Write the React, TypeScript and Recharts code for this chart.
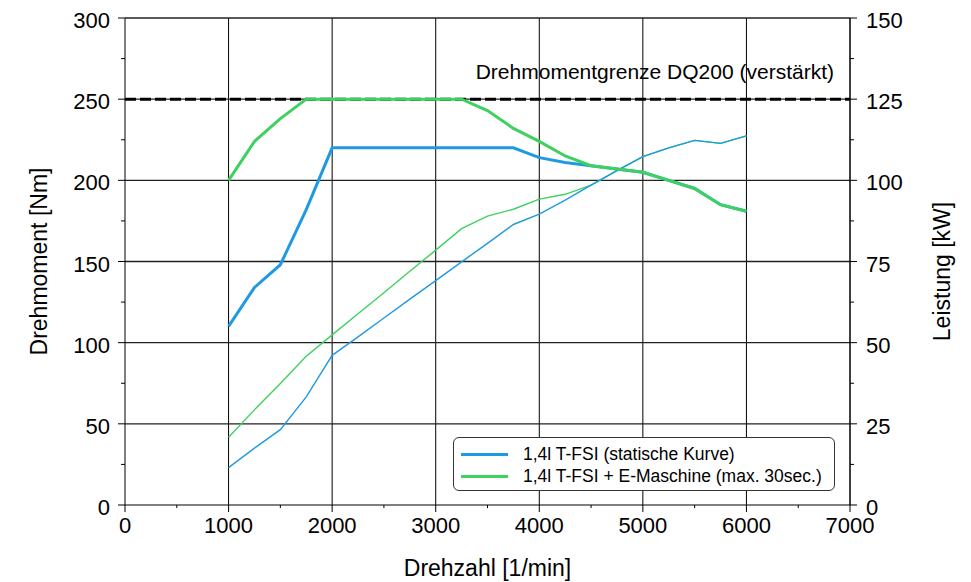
import React from "react";
import { Line, LineChart, ReferenceLine, XAxis, YAxis } from "recharts";

const rpm = [1000, 1250, 1500, 1750, 2000, 2250, 2500, 2750, 3000, 3250, 3500, 3750, 4000, 4250, 4500, 4750, 5000, 5250, 5500, 5750, 6000];
const torqueStatic = [110, 134, 148, 182, 220, 220, 220, 220, 220, 220, 220, 220, 214, 211, 209, 207, 205, 200, 195, 185, 181];
const torqueEMachine = [200, 224, 238, 250, 250, 250, 250, 250, 250, 250, 243, 232, 224, 215, 209, 207, 205, 200, 195, 185, 181];
const powerStatic = [11.5, 17.5, 23.2, 33.3, 46.1, 51.8, 57.6, 63.4, 69.1, 74.9, 80.6, 86.4, 89.6, 93.9, 98.5, 103, 107.3, 110, 112.3, 111.4, 113.7];
const powerEMachine = [20.9, 29.3, 37.4, 45.8, 52.4, 58.9, 65.4, 72, 78.5, 85.1, 89, 91.1, 94.2, 95.7, 98.5, 103, 107.3, 110, 112.3, 111.4, 113.7];

const rpmTicks = [0, 500, 1000, 1500, 2000, 2500, 3000, 3500, 4000, 4500, 5000, 5500, 6000, 6500, 7000];
const nmTicks = [0, 25, 50, 75, 100, 125, 150, 175, 200, 225, 250, 275, 300];
const kwTicks = [0, 12.5, 25, 37.5, 50, 62.5, 75, 87.5, 100, 112.5, 125, 137.5, 150];
const rpmGrid = [1000, 2000, 3000, 4000, 5000, 6000, 7000];
const nmGrid = [50, 100, 150, 200, 250, 300];
const torqueLimit = 250;

const BLUE = "#1f9ae2";
const GREEN = "#3dd160";
const FONT = "'Liberation Sans', Arial, sans-serif";

const data = rpm.map((n, i) => ({
  rpm: n,
  tStat: torqueStatic[i],
  tEm: torqueEMachine[i],
  pStat: powerStatic[i],
  pEm: powerEMachine[i],
}));

function XTick(props: any) {
  const { x, y, payload } = props;
  const major = payload.value % 1000 === 0;
  return (
    <g>
      <line x1={x} x2={x} y1={y} y2={y + (major ? 7 : 3)} stroke="#000" />
      {major && (
        <text x={x} y={y + 28} textAnchor="middle" fontSize={22} fontFamily={FONT} fill="#000">
          {payload.value}
        </text>
      )}
    </g>
  );
}

function LeftTick(props: any) {
  const { x, y, payload } = props;
  const major = payload.value % 50 === 0;
  return (
    <g>
      <line x1={x - (major ? 7 : 4)} x2={x} y1={y} y2={y} stroke="#000" />
      {major && (
        <text x={x - 15} y={y + 10} textAnchor="end" fontSize={22} fontFamily={FONT} fill="#000">
          {payload.value}
        </text>
      )}
    </g>
  );
}

function RightTick(props: any) {
  const { x, y, payload } = props;
  const major = payload.value % 25 === 0;
  return (
    <g>
      <line x1={x} x2={x + (major ? 7 : 4)} y1={y} y2={y} stroke="#000" />
      {major && (
        <text x={x + 16} y={y + 10} textAnchor="start" fontSize={22} fontFamily={FONT} fill="#000">
          {payload.value}
        </text>
      )}
    </g>
  );
}

export default function App() {
  return (
    <div style={{ position: "absolute", left: 0, top: 0, width: 971, height: 582, background: "#fff", fontFamily: FONT }}>
      <LineChart width={971} height={582} data={data} margin={{ top: 18, right: 0, bottom: 0, left: 0 }}>
        <XAxis
          dataKey="rpm"
          type="number"
          domain={[0, 7000]}
          ticks={rpmTicks}
          interval={0}
          height={77}
          tickSize={0}
          tickMargin={0}
          tick={<XTick />}
          axisLine={{ stroke: "#000" }}
          label={(p: any) => {
            const vb = p.viewBox;
            return (
              <text x={vb.x + vb.width / 2} y={576} textAnchor="middle" fontSize={23} fontFamily={FONT} fill="#000">
                Drehzahl [1/min]
              </text>
            );
          }}
        />
        <YAxis
          yAxisId="nm"
          domain={[0, 300]}
          ticks={nmTicks}
          interval={0}
          width={125}
          tickSize={0}
          tickMargin={0}
          tick={<LeftTick />}
          axisLine={{ stroke: "#000" }}
          label={(p: any) => {
            const vb = p.viewBox;
            const cy = vb.y + vb.height / 2;
            return (
              <text x={47} y={cy} transform={`rotate(-90 47 ${cy})`} textAnchor="middle" fontSize={23} fontFamily={FONT} fill="#000">
                Drehmoment [Nm]
              </text>
            );
          }}
        />
        <YAxis
          yAxisId="kw"
          orientation="right"
          domain={[0, 150]}
          ticks={kwTicks}
          interval={0}
          width={121}
          tickSize={0}
          tickMargin={0}
          tick={<RightTick />}
          axisLine={{ stroke: "#000" }}
          label={(p: any) => {
            const vb = p.viewBox;
            const cy = vb.y + vb.height / 2 + 10;
            return (
              <text x={950} y={cy} transform={`rotate(-90 950 ${cy})`} textAnchor="middle" fontSize={23} fontFamily={FONT} fill="#000">
                Leistung [kW]
              </text>
            );
          }}
        />
        {rpmGrid.map((v) => (
          <ReferenceLine key={"gx" + v} x={v} yAxisId="nm" stroke="#000" strokeWidth={1} />
        ))}
        {nmGrid.map((v) => (
          <ReferenceLine key={"gy" + v} y={v} yAxisId="nm" stroke="#222" strokeWidth={1.3} />
        ))}
        <ReferenceLine
          y={torqueLimit}
          yAxisId="nm"
          stroke="#000"
          strokeWidth={3}
          strokeDasharray="11 4"
          label={(p: any) => {
            const vb = p.viewBox;
            return (
              <text x={vb.x + vb.width - 16} y={vb.y - 20} textAnchor="end" fontSize={21} fontFamily={FONT} fill="#000">
                Drehmomentgrenze DQ200 (verstärkt)
              </text>
            );
          }}
        />
        <Line yAxisId="kw" dataKey="pEm" stroke={GREEN} strokeWidth={1.4} dot={false} isAnimationActive={false} />
        <Line yAxisId="kw" dataKey="pStat" stroke={BLUE} strokeWidth={1.4} dot={false} isAnimationActive={false} />
        <Line yAxisId="nm" dataKey="tStat" stroke={BLUE} strokeWidth={3} dot={false} isAnimationActive={false} />
        <Line yAxisId="nm" dataKey="tEm" stroke={GREEN} strokeWidth={3} dot={false} isAnimationActive={false} />
      </LineChart>
      <div
        style={{
          position: "absolute",
          left: 453,
          top: 437,
          width: 380,
          height: 52,
          border: "1px solid #333",
          borderRadius: 6,
          background: "#fff",
          fontSize: 17.5,
          color: "#000",
        }}
      >
        {[
          { name: "1,4l T-FSI (statische Kurve)", color: BLUE },
          { name: "1,4l T-FSI + E-Maschine (max. 30sec.)", color: GREEN },
        ].map((item, i) => (
          <div key={item.name} style={{ position: "absolute", left: 0, top: 5 + i * 22, height: 22, display: "flex", alignItems: "center", whiteSpace: "nowrap" }}>
            <div style={{ marginLeft: 7, width: 47, height: 3, background: item.color }} />
            <span style={{ marginLeft: 15 }}>{item.name}</span>
          </div>
        ))}
      </div>
    </div>
  );
}
